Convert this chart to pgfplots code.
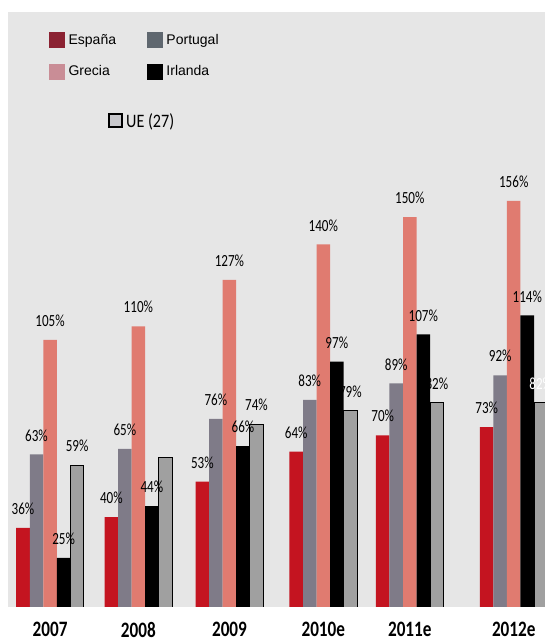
\documentclass[border=0pt]{standalone}
\usepackage{fontspec}
\setmainfont{Carlito}
\newfontfamily\arial{Liberation Sans}
\usepackage{pgfplots}
\pgfplotsset{compat=1.18}

\definecolor{cEsp}{HTML}{C41420}
\definecolor{cPor}{HTML}{7F7B88}
\definecolor{cGre}{HTML}{E07B70}
\definecolor{cUE}{HTML}{A0A0A0}
\definecolor{bggray}{HTML}{E6E6E6}
\definecolor{lEsp}{HTML}{8B2232}
\definecolor{lPor}{HTML}{5F676F}
\definecolor{lGre}{HTML}{C98D96}
\definecolor{lUE}{HTML}{C8C8CC}

\newcommand{\lbl}[1]{\scalebox{0.77}[1]{\fontsize{17}{17}\selectfont #1}}
\newcommand{\yr}[1]{\scalebox{0.78}[1]{\fontsize{22}{22}\selectfont\bfseries #1}}
\newcommand{\sq}[1]{\addlegendimage{legend image code/.code={\fill[#1] (0pt,-7.5pt) rectangle (15pt,7.5pt);}}}

\begin{document}
\begin{tikzpicture}
\path[use as bounding box, fill=white] (0,0) rectangle (545pt,643pt);

\begin{axis}[
    at={(8pt,36pt)}, anchor=south west,
    scale only axis, width=537pt, height=595pt,
    axis background/.style={fill=bggray},
    axis line style={draw=none},
    xmin=-0.457, xmax=5.38,
    ymin=7, ymax=225.3,
    ytick=\empty,
    xtick={0,0.96,1.95,2.97,3.91,5.04},
    xticklabels={\yr{2007},\yr{2008},\yr{2009},\yr{2010e},\yr{2011e},\yr{2012e}},
    major tick length=0pt,
    xticklabel style={anchor=north, inner sep=0pt, yshift=-15pt},
    ybar, bar width=0.147,
    point meta=explicit symbolic,
    nodes near coords={\lbl{\pgfplotspointmeta}},
    every node near coord/.append style={anchor=south, inner sep=1pt, yshift=12pt},
    legend columns=2,
    legend cell align=left,
    legend style={at={(0,1)}, anchor=north west, xshift=41pt, yshift=-20pt,
        draw=none, fill=none, inner sep=0pt,
        font=\arial\fontsize{14}{14}\selectfont,
        nodes={inner sep=1pt}, row sep=16pt,
        /tikz/every odd column/.append style={column sep=3pt},
        /tikz/every even column/.append style={column sep=30pt}},
]
\sq{lEsp}\addlegendentry{España}
\sq{lPor}\addlegendentry{Portugal}
\sq{lGre}\addlegendentry{Grecia}
\sq{black}\addlegendentry{Irlanda}

\addplot[forget plot, fill=cEsp, draw=none, bar shift=-0.294] coordinates {
    (0,36) [36\%] (0.96,40) [40\%] (1.95,53) [53\%]
    (2.97,64) [64\%] (3.91,70) [70\%] (5.04,73) [73\%]};
\addplot[forget plot, fill=cPor, draw=none, bar shift=-0.147] coordinates {
    (0,63) [63\%] (0.96,65) [65\%] (1.95,76) [76\%]
    (2.97,83) [83\%] (3.91,89) [89\%] (5.04,92) [92\%]};
\addplot[forget plot, fill=cGre, draw=none, bar shift=0] coordinates {
    (0,105) [105\%] (0.96,110) [110\%] (1.95,127) [127\%]
    (2.97,140) [140\%] (3.91,150) [150\%] (5.04,156) [156\%]};
\addplot[forget plot, fill=black, draw=none, bar shift=0.147] coordinates {
    (0,25) [25\%] (0.96,44) [44\%] (1.95,66) [66\%]
    (2.97,97) [97\%] (3.91,107) [107\%] (5.04,114) [114\%]};
\addplot[forget plot, fill=cUE, draw=black, line width=0.8pt, bar shift=0.294] coordinates {
    (0,59) [59\%] (0.96,62) [\mbox{}] (1.95,74) [74\%]
    (2.97,79) [79\%] (3.91,82) [82\%] (5.04,82) [\textcolor{white}{82\%}]};
\end{axis}

\begin{axis}[
    at={(8pt,36pt)}, anchor=south west,
    scale only axis, width=537pt, height=595pt,
    hide axis, xmin=0, xmax=1, ymin=0, ymax=1,
    legend style={at={(0,1)}, anchor=north west, xshift=100pt, yshift=-100pt,
        draw=none, fill=none, inner sep=0pt,
        font=\scalebox{0.85}[1]{\fontsize{19}{19}\selectfont UE (27)},
        nodes={inner sep=1pt},
        /tikz/every odd column/.append style={column sep=2pt}},
]
\addlegendimage{legend image code/.code={\filldraw[fill=lUE, draw=black, line width=2pt] (1pt,-6.5pt) rectangle (14pt,6.5pt);}}
\addlegendentry{}
\end{axis}
\end{tikzpicture}
\end{document}
